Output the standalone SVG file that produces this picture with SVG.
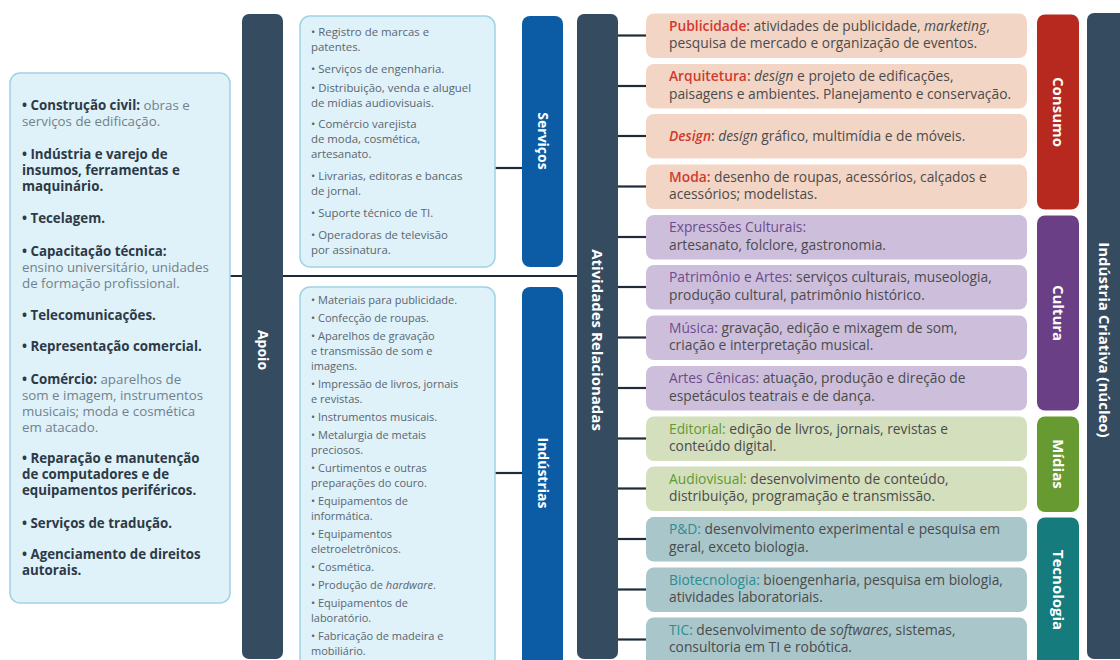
<svg xmlns="http://www.w3.org/2000/svg" width="1120" height="660" viewBox="0 0 1120 660">
<style>
.dark{fill:#354b60}
.blue{fill:#0b5ba5}
.lbox{fill:#dff1f9;stroke:#9fd2e3;stroke-width:1.5}
.vt{font-family:"Open Sans","Noto Sans",sans-serif;font-weight:700;fill:#ffffff;font-size:14px;text-anchor:middle}
.vt2{font-family:"Open Sans","Noto Sans",sans-serif;font-weight:700;fill:#ffffff;font-size:15px;text-anchor:middle}
.lt{font-family:"Open Sans","Noto Sans",sans-serif;font-size:13.3px;fill:#71828c}
.lb{font-weight:700;fill:#2c3a46}
.st{font-family:"Open Sans","Noto Sans",sans-serif;font-size:11px;fill:#5a6670}
.sv{font-size:11.4px}
.rt{font-family:"Open Sans","Noto Sans",sans-serif;font-size:13.8px;fill:#4b4b4b}
.cons{fill:#f3d5c5}.cult{fill:#cdbfdc}.mid{fill:#d4dfbd}.tec{fill:#a9c6ca}
.hc{fill:#d13a2e;font-weight:600}.hu{fill:#6d4b8d}.hm{fill:#5e9a33}.ht{fill:#2a8d92}
.conn line{stroke:#1e2b38;stroke-width:2.2}
</style>
<rect width="1120" height="660" fill="#ffffff"/>
<g class="conn" id="connectors">
<line x1="230" y1="276" x2="578" y2="276"/>
<line x1="495" y1="168" x2="523" y2="168"/>
<line x1="495" y1="473" x2="523" y2="473"/>
<line x1="617" y1="35.5" x2="647" y2="35.5"/>
<line x1="617" y1="86" x2="647" y2="86"/>
<line x1="617" y1="136" x2="647" y2="136"/>
<line x1="617" y1="186.5" x2="647" y2="186.5"/>
<line x1="617" y1="237" x2="647" y2="237"/>
<line x1="617" y1="287" x2="647" y2="287"/>
<line x1="617" y1="337.5" x2="647" y2="337.5"/>
<line x1="617" y1="388" x2="647" y2="388"/>
<line x1="617" y1="438.5" x2="647" y2="438.5"/>
<line x1="617" y1="488.5" x2="647" y2="488.5"/>
<line x1="617" y1="539" x2="647" y2="539"/>
<line x1="617" y1="589.5" x2="647" y2="589.5"/>
<line x1="617" y1="639.5" x2="647" y2="639.5"/>
</g>
<g id="apoio-box">
<rect class="lbox" x="10" y="73" width="220" height="530" rx="10"/>
<text class="lt" x="22" y="110"><tspan class="lb">• Construção civil:</tspan> obras e</text>
<text class="lt" x="22" y="126">serviços de edificação.</text>
<text class="lt lb" x="22" y="158.5">• Indústria e varejo de</text>
<text class="lt lb" x="22" y="174.5">insumos, ferramentas e</text>
<text class="lt lb" x="22" y="190.5">maquinário.</text>
<text class="lt lb" x="22" y="222.5">• Tecelagem.</text>
<text class="lt lb" x="22" y="255.5">• Capacitação técnica:</text>
<text class="lt" x="22" y="271.5">ensino universitário, unidades</text>
<text class="lt" x="22" y="287.5">de formação profissional.</text>
<text class="lt lb" x="22" y="319.5">• Telecomunicações.</text>
<text class="lt lb" x="22" y="350.5">• Representação comercial.</text>
<text class="lt" x="22" y="383.5"><tspan class="lb">• Comércio:</tspan> aparelhos de</text>
<text class="lt" x="22" y="399.5">som e imagem, instrumentos</text>
<text class="lt" x="22" y="415.5">musicais; moda e cosmética</text>
<text class="lt" x="22" y="431.5">em atacado.</text>
<text class="lt lb" x="22" y="462.5">• Reparação e manutenção</text>
<text class="lt lb" x="22" y="478.5">de computadores e de</text>
<text class="lt lb" x="22" y="495">equipamentos periféricos.</text>
<text class="lt lb" x="22" y="527.5">• Serviços de tradução.</text>
<text class="lt lb" x="22" y="558.5">• Agenciamento de direitos</text>
<text class="lt lb" x="22" y="574.5">autorais.</text>
</g>
<g id="apoio">
<rect class="dark" x="242" y="14" width="41" height="645" rx="7"/>
<text class="vt" transform="rotate(90 262.5 350)" x="262.5" y="350" dy="0.35em">Apoio</text>
</g>
<g id="servicos-box">
<rect class="lbox" x="300" y="16" width="195" height="251" rx="10"/>
<text class="st sv" x="311" y="36">• Registro de marcas e</text>
<text class="st sv" x="311" y="51">patentes.</text>
<text class="st sv" x="311" y="73">• Serviços de engenharia.</text>
<text class="st sv" x="311" y="92">• Distribuição, venda e aluguel</text>
<text class="st sv" x="311" y="107">de mídias audiovisuais.</text>
<text class="st sv" x="311" y="128">• Comércio varejista</text>
<text class="st sv" x="311" y="143">de moda, cosmética,</text>
<text class="st sv" x="311" y="158">artesanato.</text>
<text class="st sv" x="311" y="179.5">• Livrarias, editoras e bancas</text>
<text class="st sv" x="311" y="194.5">de jornal.</text>
<text class="st sv" x="311" y="216.5">• Suporte técnico de TI.</text>
<text class="st sv" x="311" y="238.5">• Operadoras de televisão</text>
<text class="st sv" x="311" y="253.5">por assinatura.</text>
</g>
<g id="servicos">
<rect class="blue" x="522" y="16" width="41" height="251" rx="8"/>
<text class="vt" transform="rotate(90 542.5 141)" x="542.5" y="141" dy="0.35em">Serviços</text>
</g>
<g id="industrias-box">
<rect class="lbox" x="300" y="287" width="195" height="385" rx="10"/>
<text class="st" x="311" y="304">• Materiais para publicidade.</text>
<text class="st" x="311" y="322">• Confecção de roupas.</text>
<text class="st" x="311" y="340">• Aparelhos de gravação</text>
<text class="st" x="311" y="355">e transmissão de som e</text>
<text class="st" x="311" y="370">imagens.</text>
<text class="st" x="311" y="388">• Impressão de livros, jornais</text>
<text class="st" x="311" y="403">e revistas.</text>
<text class="st" x="311" y="421">• Instrumentos musicais.</text>
<text class="st" x="311" y="439">• Metalurgia de metais</text>
<text class="st" x="311" y="454">preciosos.</text>
<text class="st" x="311" y="472">• Curtimentos e outras</text>
<text class="st" x="311" y="487">preparações do couro.</text>
<text class="st" x="311" y="505">• Equipamentos de</text>
<text class="st" x="311" y="520">informática.</text>
<text class="st" x="311" y="538">• Equipamentos</text>
<text class="st" x="311" y="553">eletroeletrônicos.</text>
<text class="st" x="311" y="571">• Cosmética.</text>
<text class="st" x="311" y="589">• Produção de <tspan font-style="italic">hardware</tspan>.</text>
<text class="st" x="311" y="607">• Equipamentos de</text>
<text class="st" x="311" y="622">laboratório.</text>
<text class="st" x="311" y="640">• Fabricação de madeira e</text>
<text class="st" x="311" y="655">mobiliário.</text>
</g>
<g id="industrias">
<rect class="blue" x="522" y="287" width="41" height="385" rx="8"/>
<text class="vt" transform="rotate(90 542.5 473)" x="542.5" y="473" dy="0.35em">Indústrias</text>
</g>
<g id="atividades">
<rect class="dark" x="577" y="14" width="41" height="645" rx="7"/>
<text class="vt2" transform="rotate(90 597.5 340)" x="597.5" y="340" dy="0.35em">Atividades Relacionadas</text>
</g>
<g id="publicidade">
<rect class="cons" x="646" y="13.5" width="381" height="44.5" rx="8"/>
<text class="rt" x="669" y="30.5"><tspan class="hc">Publicidade</tspan>: atividades de publicidade, <tspan font-style="italic">marketing</tspan>,</text>
<text class="rt" x="669" y="48">pesquisa de mercado e organização de eventos.</text>
</g>
<g id="arquitetura">
<rect class="cons" x="646" y="64" width="381" height="44.5" rx="8"/>
<text class="rt" x="669" y="81"><tspan class="hc">Arquitetura</tspan>: <tspan font-style="italic">design</tspan> e projeto de edificações,</text>
<text class="rt" x="669" y="98.5">paisagens e ambientes. Planejamento e conservação.</text>
</g>
<g id="design">
<rect class="cons" x="646" y="114" width="381" height="44.5" rx="8"/>
<text class="rt" x="669" y="140.5"><tspan class="hc" font-style="italic" font-weight="400">Design</tspan>: <tspan font-style="italic">design</tspan> gráfico, multimídia e de móveis.</text>
</g>
<g id="moda">
<rect class="cons" x="646" y="164.5" width="381" height="44.5" rx="8"/>
<text class="rt" x="669" y="181.5"><tspan class="hc">Moda:</tspan> desenho de roupas, acessórios, calçados e</text>
<text class="rt" x="669" y="199">acessórios; modelistas.</text>
</g>
<g id="expressoes">
<rect class="cult" x="646" y="215" width="381" height="44.5" rx="8"/>
<text class="rt" x="669" y="232"><tspan class="hu">Expressões Culturais:</tspan></text>
<text class="rt" x="669" y="249.5">artesanato, folclore, gastronomia.</text>
</g>
<g id="patrimonio">
<rect class="cult" x="646" y="265" width="381" height="44.5" rx="8"/>
<text class="rt" x="669" y="282"><tspan class="hu">Patrimônio e Artes:</tspan> serviços culturais, museologia,</text>
<text class="rt" x="669" y="299.5">produção cultural, patrimônio histórico.</text>
</g>
<g id="musica">
<rect class="cult" x="646" y="315.5" width="381" height="44.5" rx="8"/>
<text class="rt" x="669" y="332.5"><tspan class="hu">Música:</tspan> gravação, edição e mixagem de som,</text>
<text class="rt" x="669" y="350">criação e interpretação musical.</text>
</g>
<g id="artes-cenicas">
<rect class="cult" x="646" y="366" width="381" height="44.5" rx="8"/>
<text class="rt" x="669" y="383"><tspan class="hu">Artes Cênicas:</tspan> atuação, produção e direção de</text>
<text class="rt" x="669" y="400.5">espetáculos teatrais e de dança.</text>
</g>
<g id="editorial">
<rect class="mid" x="646" y="416.5" width="381" height="44.5" rx="8"/>
<text class="rt" x="669" y="433.5"><tspan class="hm">Editorial:</tspan> edição de livros, jornais, revistas e</text>
<text class="rt" x="669" y="451">conteúdo digital.</text>
</g>
<g id="audiovisual">
<rect class="mid" x="646" y="466.5" width="381" height="44.5" rx="8"/>
<text class="rt" x="669" y="483.5"><tspan class="hm">Audiovisual:</tspan> desenvolvimento de conteúdo,</text>
<text class="rt" x="669" y="501">distribuição, programação e transmissão.</text>
</g>
<g id="pd">
<rect class="tec" x="646" y="517" width="381" height="44.5" rx="8"/>
<text class="rt" x="669" y="534"><tspan class="ht">P&amp;D:</tspan> desenvolvimento experimental e pesquisa em</text>
<text class="rt" x="669" y="551.5">geral, exceto biologia.</text>
</g>
<g id="biotecnologia">
<rect class="tec" x="646" y="567.5" width="381" height="44.5" rx="8"/>
<text class="rt" x="669" y="584.5"><tspan class="ht">Biotecnologia:</tspan> bioengenharia, pesquisa em biologia,</text>
<text class="rt" x="669" y="602">atividades laboratoriais.</text>
</g>
<g id="tic">
<rect class="tec" x="646" y="617.5" width="381" height="52" rx="8"/>
<text class="rt" x="669" y="634.5"><tspan class="ht">TIC:</tspan> desenvolvimento de <tspan font-style="italic">softwares</tspan>, sistemas,</text>
<text class="rt" x="669" y="652">consultoria em TI e robótica.</text>
</g>
<g id="consumo">
<rect x="1037" y="14.5" width="42" height="195" rx="8" fill="#b7291f"/>
<text class="vt2" transform="rotate(90 1058 112)" x="1058" y="112" dy="0.35em">Consumo</text>
</g>
<g id="cultura">
<rect x="1037" y="215.5" width="42" height="195" rx="8" fill="#6b3f86"/>
<text class="vt2" transform="rotate(90 1058 313)" x="1058" y="313" dy="0.35em">Cultura</text>
</g>
<g id="midias">
<rect x="1037" y="416.5" width="42" height="95.5" rx="8" fill="#679a30"/>
<text class="vt2" transform="rotate(90 1058 464)" x="1058" y="464" dy="0.35em">Mídias</text>
</g>
<g id="tecnologia">
<rect x="1037" y="517.5" width="42" height="155" rx="8" fill="#157b7c"/>
<text class="vt2" transform="rotate(90 1058 590)" x="1058" y="590" dy="0.35em">Tecnologia</text>
</g>
<g id="industria-criativa">
<rect class="dark" x="1087" y="13" width="42" height="646" rx="7"/>
<text class="vt2" transform="rotate(90 1104 340)" x="1104" y="340" dy="0.35em">Indústria Criativa (núcleo)</text>
</g>
</svg>
